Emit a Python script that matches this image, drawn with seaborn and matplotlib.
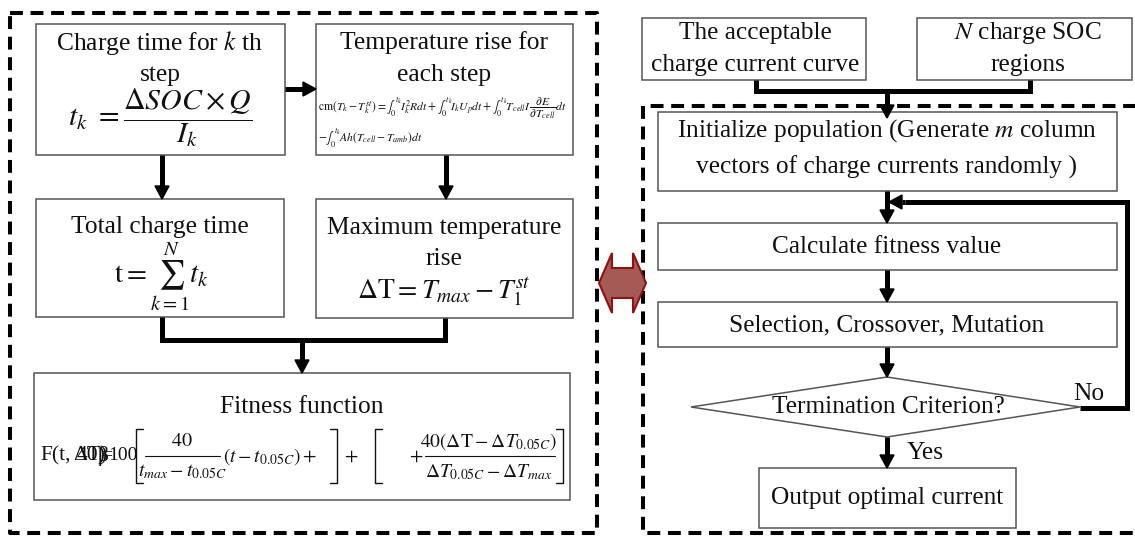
import matplotlib
matplotlib.use("Agg")
import matplotlib.pyplot as plt
import seaborn as sns
from matplotlib.patches import Rectangle, Polygon

# -----------------------------------------
# 1. Style
# -----------------------------------------
sns.set_theme(style="white")
plt.rcParams['font.family'] = ['Liberation Serif', 'DejaVu Serif']
plt.rcParams['mathtext.fontset'] = 'stix'

# -----------------------------------------
# 2. Flowchart content (boxes in pixel coords: x0, y0, x1, y1)
# -----------------------------------------
box_names = ["charge_step", "temp_step", "total_time", "max_temp", "fitness",
             "accept", "soc_regions", "init", "calc", "select", "output"]
box_rects = [(36, 24, 285, 155), (316, 24, 573, 155), (36, 199, 284, 317),
             (316, 199, 573, 318), (34, 373, 570, 500),
             (642, 18, 866, 80), (917, 18, 1132, 80), (658, 112, 1117, 191),
             (658, 223, 1117, 270), (658, 302, 1117, 347), (759, 468, 1016, 528)]

# plain text lines: (x, y, text, size)
text_lines = [
    (160, 43, "Charge time for $k$ th", 18.4),
    (160, 75, "step", 18.4),
    (444, 43, "Temperature rise for", 18.4),
    (444, 75, "each step", 18.4),
    (160, 227, "Total charge time", 18.4),
    (444, 228, "Maximum temperature", 18.4),
    (444, 259, "rise", 18.4),
    (302, 407, "Fitness function", 18.4),
    (755, 33, "The acceptable", 18.3),
    (755, 65, "charge current curve", 18.3),
    (1028, 33, "$N$ charge SOC", 18.3),
    (1028, 65, "regions", 18.3),
    (887, 131, "Initialize population (Generate $m$ column", 18.3),
    (887, 167, "vectors of charge currents randomly )", 18.3),
    (887, 247, "Calculate fitness value", 18.3),
    (887, 325, "Selection, Crossover, Mutation", 18.3),
    (888, 407, "Termination Criterion?", 18.3),
    (887, 498, "Output optimal current", 18.3),
    (925, 453, "Yes", 18.3),
    (1089, 394, "No", 18.3),
]

# equations: (x, y, text, size, ha)
equations = [
    (160, 118, r"$t_k\ =\dfrac{\Delta SOC\times Q}{I_k}$", 21.5, "center"),
    (318, 108, r"$\mathrm{cm}\left(T_k-T_k^{st}\right)=\int_0^{t_k}I_k^2Rdt+\int_0^{t_k}I_kU_pdt+\int_0^{t_k}T_{cell}I\,\dfrac{\partial E}{\partial T_{cell}}dt$", 8.4, "left"),
    (318, 138, r"$-\int_0^{t_k}Ah\left(T_{cell}-T_{amb}\right)dt$", 8.4, "left"),
    (162, 277, r"$\mathrm{t}=\sum_{k=1}^{N}t_k$", 21, "center"),
    (444, 292, r"$\Delta\mathrm{T}=T_{max}-T_1^{st}$", 20, "center"),
]

# fitness formula pieces: (x, y, text, size, ha)
fitness_parts = [
    (182, 441, r"$40$", 14.5, "center"),
    (182, 472, r"$t_{max}-t_{0.05C}$", 14, "center"),
    (223, 457, r"$(t-t_{0.05C})+$", 14, "left"),
    (344, 457, r"$+$", 14, "left"),
    (409, 457, r"$+$", 14, "left"),
    (489, 442, r"$40\left(\Delta\mathrm{T}-\Delta T_{0.05C}\right)$", 14, "center"),
    (489, 472, r"$\Delta T_{0.05C}-\Delta T_{max}$", 14, "center"),
]
fraction_bars = [(145, 220, 456), (425, 555, 456)]
brackets = [(136, 1), (337, -1), (375, 1), (563, -1)]

# overlapping start of the fitness formula, as in the source figure
fitness_prefix = [(40, "F(t,", 15.5), (73, "ΔT)", 15.5), (77, "40)", 15.5),
                  (98, "β", 15.5), (101, "=", 15.5), (108, "100", 14)]

# connectors: polylines and arrows (pixel coords)
thick_lines = [
    [(162, 317), (162, 340), (445, 340), (445, 318)],
    [(756, 80), (756, 91), (1030, 91), (1030, 80)],
    [(1080, 408), (1127, 408), (1127, 202), (905, 202)],
]
arrows = [
    ((285, 89), (316, 89)),
    ((162, 155), (162, 199)),
    ((446, 155), (446, 199)),
    ((302, 340), (302, 373)),
    ((887, 91), (887, 118)),
    ((887, 191), (887, 223)),
    ((905, 202), (889, 202)),
    ((887, 270), (887, 302)),
    ((887, 347), (887, 377)),
    ((887, 437), (887, 468)),
]
diamond = [(691, 407), (887, 377), (1080, 407), (887, 437)]
double_arrow = [(599, 283), (612, 253), (612, 268), (633, 268), (633, 253),
                (646, 283), (633, 313), (633, 298), (612, 298), (612, 313)]

# -----------------------------------------
# 3. Draw
# -----------------------------------------
fig = plt.figure(figsize=(11.35, 5.36), dpi=100)
ax = fig.add_axes([0, 0, 1, 1])
ax.set_xlim(0, 1135)
ax.set_ylim(536, 0)
ax.axis("off")

dash = dict(color="black", lw=2.9, linestyle=(0, (3.2, 1.9)), solid_capstyle="butt")
# left dashed group
ax.plot([10, 597, 597, 10, 10], [13, 13, 533, 533, 13], **dash)
# right dashed group (open on the right)
ax.plot([1140, 643, 643, 1140], [106, 106, 533, 533], **dash)

for (x0, y0, x1, y1) in box_rects:
    ax.add_patch(Rectangle((x0, y0), x1 - x0, y1 - y0, fill=True, facecolor="white",
                           edgecolor="#555555", lw=1.1, zorder=2))
ax.add_patch(Polygon(diamond, closed=True, facecolor="white", edgecolor="#555555", lw=1.1, zorder=2))

for x, y, s, fs in text_lines:
    ax.text(x, y, s, fontsize=fs, ha="center", va="center", color="#111111", zorder=5)
for x, y, s, fs, ha in equations + fitness_parts:
    ax.text(x, y, s, fontsize=fs, ha=ha, va="center", color="#111111", zorder=5)
for x, s, fs in fitness_prefix:
    ax.text(x, 456, s, fontsize=fs, ha="left", va="center", color="#111111", zorder=5)

for x0, x1, y in fraction_bars:
    ax.plot([x0, x1], [y, y], color="#111111", lw=0.8, zorder=5)
for x, side in brackets:
    ax.plot([x + 7 * side, x, x, x + 7 * side], [429, 429, 483, 483],
            color="#111111", lw=1.0, zorder=5)

for pts in thick_lines:
    xs, ys = zip(*pts)
    ax.plot(xs, ys, color="black", lw=3.6, solid_joinstyle="miter",
            solid_capstyle="butt", zorder=3)


def draw_arrow(start, tip, head=13, half=7):
    (x0, y0), (x1, y1) = start, tip
    dx, dy = x1 - x0, y1 - y0
    n = (dx ** 2 + dy ** 2) ** 0.5
    ux, uy = dx / n, dy / n
    bx, by = x1 - ux * head, y1 - uy * head
    ax.plot([x0, bx], [y0, by], color="black", lw=3.6, solid_capstyle="butt", zorder=3)
    tri = [(x1, y1), (bx - uy * half, by + ux * half), (bx + uy * half, by - ux * half)]
    ax.add_patch(Polygon(tri, closed=True, color="black", zorder=4))


for start, tip in arrows:
    draw_arrow(start, tip)

ax.add_patch(Polygon(double_arrow, closed=True, facecolor="#a65a55",
                     edgecolor="#8a1414", lw=1.5, zorder=4))

fig.savefig("out.png", dpi=100)
